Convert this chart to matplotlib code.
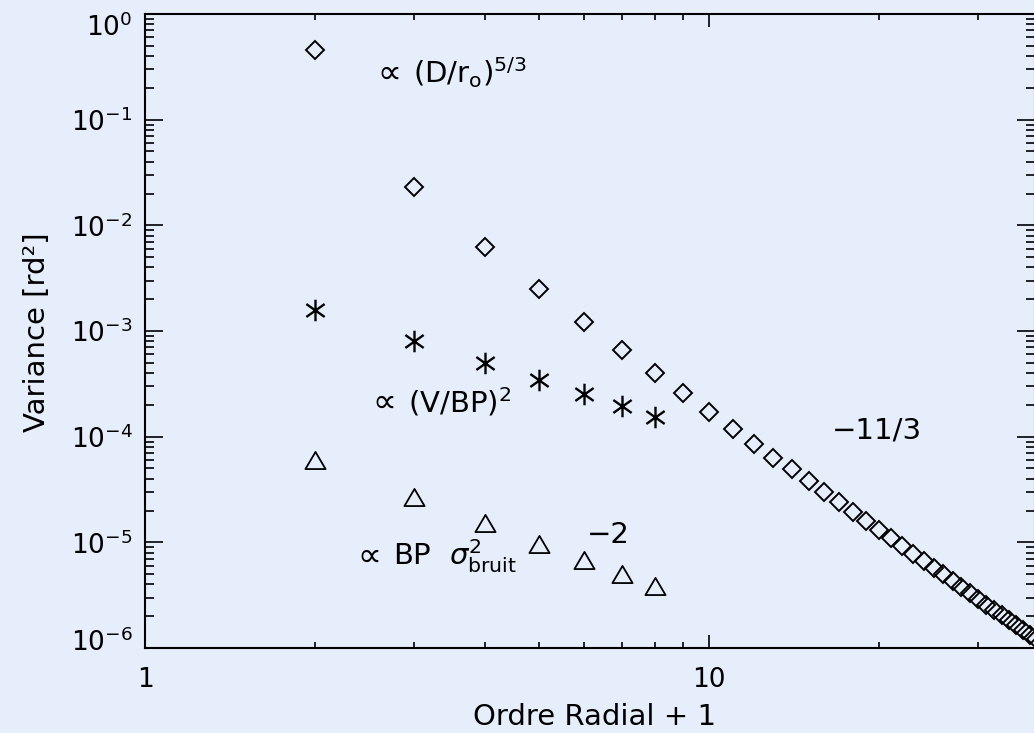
import matplotlib.pyplot as plt
from matplotlib.path import Path
from matplotlib.ticker import NullFormatter
import matplotlib.transforms as mtransforms

plt.rcParams['font.family'] = ['DejaVu Sans']
plt.rcParams['mathtext.fontset'] = 'dejavusans'

# Ordre radial + 1 et variances
ordre = list(range(2, 39))
var_turb = [0.456, 0.023, 0.0062, 0.00249, 0.00121, 6.6e-4, 4.0e-4, 2.58e-4,
            1.71e-4, 1.19e-4, 8.6e-5, 6.3e-5, 4.9e-5, 3.8e-5, 2.97e-5, 2.39e-5,
            1.94e-5, 1.59e-5, 1.32e-5, 1.10e-5, 9.2e-6, 7.8e-6, 6.7e-6, 5.7e-6,
            5.0e-6, 4.3e-6, 3.76e-6, 3.30e-6, 2.91e-6, 2.58e-6, 2.29e-6, 2.04e-6,
            1.83e-6, 1.64e-6, 1.48e-6, 1.33e-6, 1.21e-6]

ordre_court = [2, 3, 4, 5, 6, 7, 8]
var_vib = [1.57e-3, 8.05e-4, 4.99e-4, 3.42e-4, 2.52e-4, 1.95e-4, 1.54e-4]
var_bruit = [6.07e-5, 2.69e-5, 1.52e-5, 9.7e-6, 6.76e-6, 4.98e-6, 3.83e-6]

y_ticks = [1e-6, 1e-5, 1e-4, 1e-3, 1e-2, 1e-1, 1]
y_tick_labels = [r'$10^{-6}$', r'$10^{-5}$', r'$10^{-4}$', r'$10^{-3}$',
                 r'$10^{-2}$', r'$10^{-1}$', r'$10^{0}$']
x_ticks = [1, 10]
x_tick_labels = ['1', '10']

fond = '#e6eefc'
fs = 19
fs_txt = 21

fig = plt.figure(figsize=(10.34, 7.33), dpi=100, facecolor=fond)
ax = fig.add_axes([145 / 1034, 85 / 733, 890 / 1034, 634 / 733], facecolor=fond)
ax.set_xscale('log')
ax.set_yscale('log')
ax.set_xlim(1, 37.8)
ax.set_ylim(1e-6, 1)

# symboles facon IDL
triangle = Path([(-1, -0.85), (1, -0.85), (0, 0.85), (-1, -0.85)], closed=True)
etoile = Path([(0, 1), (0, -1), (-0.85, 0.6), (0.85, -0.6), (-0.85, -0.6), (0.85, 0.6)],
              [Path.MOVETO, Path.LINETO] * 3)

ax.plot(ordre, var_turb, ls='none', marker='D', ms=9.2, mfc='none', mec='black', mew=1.4)
ax.plot(ordre_court, var_vib, ls='none', marker=etoile, ms=15.5, mec='black', mew=1.7)
ax.plot(ordre_court, var_bruit, ls='none', marker=triangle, ms=14.5, mfc='none',
        mec='black', mew=1.3)

# annotations
def prop(x, y, s):
    ax.text(x, y, '∝', fontsize=fs_txt + 3, va='baseline')
    ax.text(x * 1.155, y, s, fontsize=fs_txt, va='baseline')

prop(2.58, 0.222, '(D/r$_{\\rm o}$)$^{5/3}$')
prop(2.53, 1.70e-4, '(V/BP)$^{2}$')
prop(2.38, 6.05e-6, 'BP  $\\sigma^{2}_{\\rm bruit}$')
ax.text(6.08, 9.8e-6, '\u22122', fontsize=fs_txt, va='baseline')
ax.text(16.5, 9.66e-5, '\u221211/3', fontsize=fs_txt, va='baseline')

ax.set_xticks(x_ticks, x_tick_labels)
ax.set_yticks(y_ticks, y_tick_labels)
ax.xaxis.set_minor_formatter(NullFormatter())
ax.yaxis.set_minor_formatter(NullFormatter())

ax.tick_params(which='both', direction='in', top=True, right=True, width=1.2,
               colors='black', labelsize=fs)
ax.tick_params(axis='x', which='major', length=9.4, pad=14)
ax.tick_params(axis='x', which='minor', length=4.3)
ax.tick_params(axis='y', which='major', length=13, pad=9)
ax.tick_params(axis='y', which='minor', length=6.5)
for s in ax.spines.values():
    s.set_linewidth(1.5)

# decalage des etiquettes extremes
yt = ax.yaxis.get_major_ticks()
yt[-1].label1.set_transform(yt[-1].label1.get_transform()
                            + mtransforms.ScaledTranslation(0, -0.11, fig.dpi_scale_trans))
yt[0].label1.set_transform(yt[0].label1.get_transform()
                           + mtransforms.ScaledTranslation(0, 0.08, fig.dpi_scale_trans))

fig.text(595 / 1034, 1 - 717 / 733, 'Ordre Radial + 1', fontsize=fs_txt, ha='center',
         va='center')
fig.text(37 / 1034, 1 - 332 / 733, 'Variance [rd²]', fontsize=fs_txt, ha='center',
         va='center', rotation=90)

fig.savefig('out.png', dpi=100, facecolor=fond)
